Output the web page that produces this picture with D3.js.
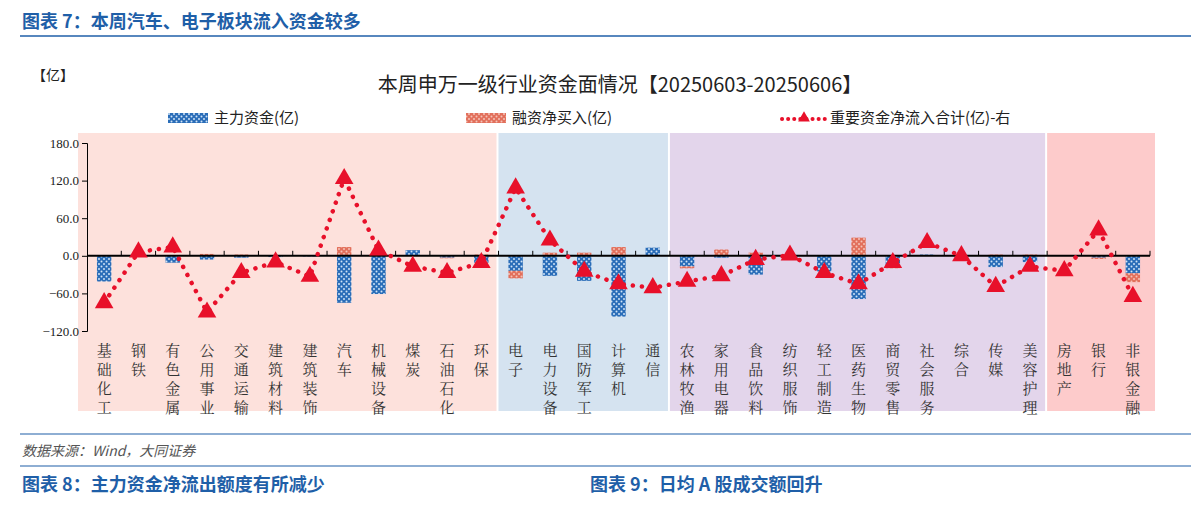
<!DOCTYPE html><html><head><meta charset="utf-8">
<script src="https://cdn.jsdelivr.net/npm/d3@7/dist/d3.min.js"></script>
<style>body{margin:0;background:#fff;font-family:"Noto Sans CJK SC",sans-serif}</style></head><body>
<svg id="c" width="1191" height="508"></svg>
<script>
const categories=["基础化工","钢铁","有色金属","公用事业","交通运输","建筑材料","建筑装饰","汽车","机械设备","煤炭","石油石化","环保","电子","电力设备","国防军工","计算机","通信","农林牧渔","家用电器","食品饮料","纺织服饰","轻工制造","医药生物","商贸零售","社会服务","综合","传媒","美容护理","房地产","银行","非银金融"];
const mainFund=[-41,0,-11,-6,-3,-2,-1,-75,-61,9,-3,-11,-24,-32,-40,-97,13,-17,-3,-30,-4,-25,-69,-18,2,0,-18,-10,0,-3,-28];
const marginBuy=[0,0,0,3,2,1,1,14,6,0,-1,2,-12,5,5,14,0,-3,10,5,-1,0,29,-2,0,0,2,2,0,-2,-14];
const netTotal=[-75,6,14,-90,-27,-10,-33,123,9,-17,-27,-11,108,25,-25,-45,-51,-41,-32,-6,1,-27,-45,-11,21,0,-49,-17,-24,41,-65];
const yTicks=[180,120,60,0,-60,-120];
const groups=[{from:0,to:11,color:"#fde1dc"},{from:12,to:16,color:"#d5e3f0"},{from:17,to:27,color:"#e3d5eb"},{from:28,to:30,color:"#fdcbcb"}];

const svg=d3.select("#c");
const blue="#1f5fa8";
svg.append("text").attr("x",22).attr("y",28).attr("fill",blue).attr("font-size",18).attr("font-weight","bold").text("图表 7：本周汽车、电子板块流入资金较多");
svg.append("line").attr("x1",20).attr("x2",1191).attr("y1",36).attr("y2",36).attr("stroke",blue).attr("stroke-width",1.5);
svg.append("text").attr("x",22).attr("y",456).attr("fill","#555").attr("font-size",14).attr("font-style","italic").text("数据来源：Wind，大同证券");
svg.append("line").attr("x1",20).attr("x2",1191).attr("y1",434).attr("y2",434).attr("stroke",blue).attr("stroke-width",1.2);
svg.append("line").attr("x1",20).attr("x2",1191).attr("y1",466).attr("y2",466).attr("stroke",blue).attr("stroke-width",1.2);
svg.append("text").attr("x",22).attr("y",491).attr("fill",blue).attr("font-size",18).attr("font-weight","bold").text("图表 8：主力资金净流出额度有所减少");
svg.append("text").attr("x",590).attr("y",491).attr("fill",blue).attr("font-size",18).attr("font-weight","bold").text("图表 9：日均 A 股成交额回升");

const defs=svg.append("defs");
function pat(id,bg,dot){const p=defs.append("pattern").attr("id",id).attr("width",5).attr("height",5).attr("patternUnits","userSpaceOnUse");
p.append("rect").attr("width",5).attr("height",5).attr("fill",bg);
p.append("circle").attr("cx",1.5).attr("cy",1.5).attr("r",1).attr("fill",dot);
p.append("circle").attr("cx",4).attr("cy",4).attr("r",1).attr("fill",dot);}
pat("pb","#2a6db8","#cfe3f7");pat("pr","#e2705c","#f5c3b8");

const x=d3.scaleBand().domain(categories).range([87,1150]);
const y=d3.scaleLinear().domain([-120,180]).range([331,143]);
const bw=x.bandwidth();
groups.forEach(g=>{const x0=g.from===0?78:x(categories[g.from]);const x1=g.to===30?1155:x(categories[g.to])+bw;
svg.append("rect").attr("x",x0).attr("y",133).attr("width",x1-x0-(g.to===30?0:2)).attr("height",278).attr("fill",g.color);});

svg.append("text").attr("x",620).attr("y",92).attr("text-anchor","middle").attr("font-size",20).attr("fill","#222").text("本周申万一级行业资金面情况【20250603-20250606】");
svg.append("text").attr("x",32).attr("y",80).attr("font-size",14).attr("fill","#222").text("【亿】");

// legend
svg.append("rect").attr("x",168).attr("y",113).attr("width",40).attr("height",10).attr("fill","url(#pb)");
svg.append("text").attr("x",214).attr("y",123).attr("font-size",15).attr("fill","#222").text("主力资金(亿)");
svg.append("rect").attr("x",466).attr("y",113).attr("width",40).attr("height",10).attr("fill","url(#pr)");
svg.append("text").attr("x",512).attr("y",123).attr("font-size",15).attr("fill","#222").text("融资净买入(亿)");
svg.append("line").attr("x1",782).attr("x2",826).attr("y1",119).attr("y2",119).attr("stroke","#e8102a").attr("stroke-width",4).attr("stroke-dasharray","0.1,6").attr("stroke-linecap","round");
svg.append("path").attr("d",d3.symbol(d3.symbolTriangle,60)()).attr("transform","translate(804,118)").attr("fill","#e8102a");
svg.append("text").attr("x",830).attr("y",123).attr("font-size",15).attr("fill","#222").text("重要资金净流入合计(亿)-右");

// y axis
const ya=svg.append("g").attr("transform","translate(87,0)").call(d3.axisLeft(y).tickValues(yTicks).tickFormat(d3.format(".1f")).tickSize(5));
ya.select(".domain").attr("stroke","#000");
ya.selectAll("text").attr("font-size",13).attr("fill","#222").attr("font-family","Liberation Serif");

// bars stacked
const cx=i=>x(categories[i])+bw/2, w=bw*0.42;
categories.forEach((c,i)=>{
 let pos=0,neg=0;
 [[mainFund[i],"url(#pb)"],[marginBuy[i],"url(#pr)"]].forEach(([v,f])=>{
  if(v===0)return;
  let a,b; if(v>0){a=pos;b=pos+v;pos=b;}else{a=neg;b=neg+v;neg=b;}
  svg.append("rect").attr("x",cx(i)-w/2).attr("width",w).attr("y",y(Math.max(a,b))).attr("height",Math.abs(y(a)-y(b))).attr("fill",f);
 });
});
// zero axis with ticks
svg.append("line").attr("x1",87).attr("x2",1150).attr("y1",y(0)).attr("y2",y(0)).attr("stroke","#000").attr("stroke-width",2);
categories.forEach((c,i)=>svg.append("line").attr("x1",x(c)+bw).attr("x2",x(c)+bw).attr("y1",y(0)-5).attr("y2",y(0)).attr("stroke","#000"));

// line
const ln=d3.line().x((d,i)=>cx(i)).y(d=>y(d));
svg.append("path").attr("d",ln(netTotal)).attr("fill","none").attr("stroke","#e8102a").attr("stroke-width",4.5).attr("stroke-dasharray","0.1,9").attr("stroke-linecap","round");
netTotal.forEach((v,i)=>svg.append("path").attr("d",d3.symbol(d3.symbolTriangle,150)()).attr("transform",`translate(${cx(i)},${y(v)})`).attr("fill","#e8102a"));

// category labels vertical
categories.forEach((c,i)=>{const t=svg.append("text").attr("text-anchor","middle").attr("font-size",15).attr("fill","#333").attr("font-family","Noto Serif CJK SC,Noto Sans CJK SC");
 [...c].forEach((ch,k)=>t.append("tspan").attr("x",cx(i)).attr("y",356+k*19).text(ch));});
</script></body></html>
